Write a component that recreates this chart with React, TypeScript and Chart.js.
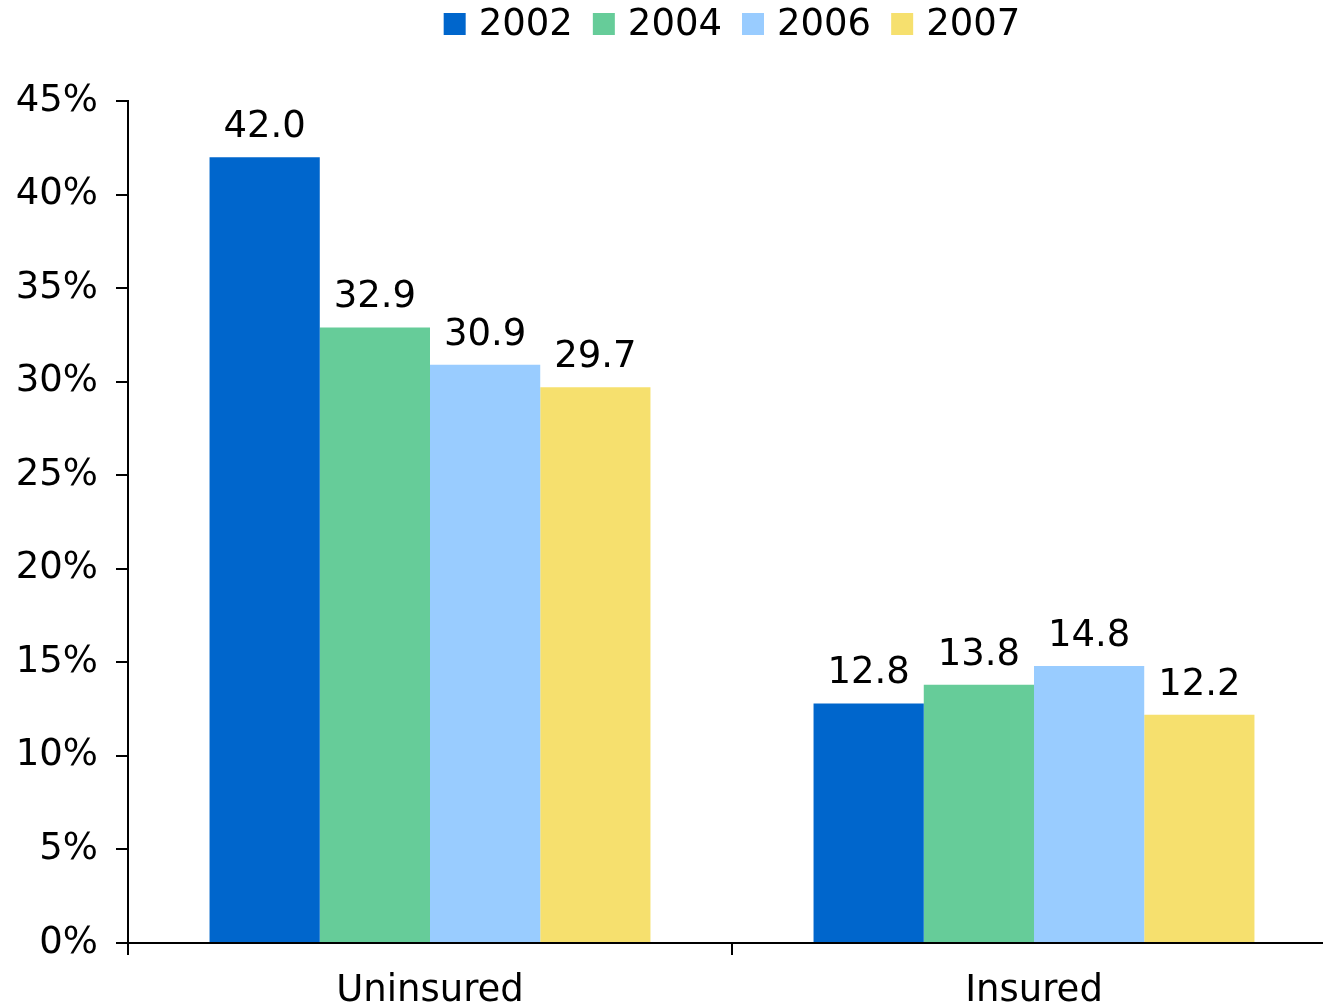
import React, { useEffect, useRef } from "react";
import { Chart, registerables } from "chart.js";

Chart.register(...registerables);

const categories = ["Uninsured", "Insured"];
const seriesNames = ["2002", "2004", "2006", "2007"];
const values2002 = [42.0, 12.8];
const values2004 = [32.9, 13.8];
const values2006 = [30.9, 14.8];
const values2007 = [29.7, 12.2];
const colors = ["#0066CC", "#66CC99", "#99CCFF", "#F6E06E"];
const yTicks = [0, 5, 10, 15, 20, 25, 30, 35, 40, 45];

const FONT = "'DejaVu Sans', Verdana, sans-serif";
const FS = 37;

const labelPlugin = {
  id: "barLabels",
  afterDatasetsDraw(chart: any) {
    const ctx = chart.ctx;
    ctx.save();
    ctx.font = `${FS}px ${FONT}`;
    ctx.fillStyle = "#000";
    ctx.textAlign = "center";
    ctx.textBaseline = "alphabetic";
    chart.data.datasets.forEach((ds: any, i: number) => {
      const meta = chart.getDatasetMeta(i);
      meta.data.forEach((bar: any, j: number) => {
        ctx.fillText(Number(ds.data[j]).toFixed(1), bar.x, bar.y - 20);
      });
    });
    ctx.restore();
  },
};

const legendPlugin = {
  id: "customLegend",
  afterDraw(chart: any) {
    const ctx = chart.ctx;
    ctx.save();
    ctx.font = `${FS}px ${FONT}`;
    const box = 22;
    const gap = 13;
    const spacing = 20;
    const widths = seriesNames.map((n) => ctx.measureText(n).width);
    const total =
      widths.reduce((a, w) => a + box + gap + w, 0) + spacing * (seriesNames.length - 1);
    const ca = chart.chartArea;
    let x = (ca.left + ca.right) / 2 - total / 2;
    const cy = 24;
    ctx.textBaseline = "middle";
    ctx.textAlign = "left";
    seriesNames.forEach((n, i) => {
      ctx.fillStyle = colors[i];
      ctx.fillRect(x, cy - box / 2, box, box);
      ctx.fillStyle = "#000";
      ctx.fillText(n, x + box + gap, cy + 1);
      x += box + gap + widths[i] + spacing;
    });
    ctx.restore();
  },
};

export default function App() {
  const ref = useRef<HTMLCanvasElement>(null);
  useEffect(() => {
    if (!ref.current) return;
    const seriesData = [values2002, values2004, values2006, values2007];
    const chart = new Chart(ref.current, {
      type: "bar",
      data: {
        labels: categories,
        datasets: seriesNames.map((n, i) => ({
          label: n,
          data: seriesData[i],
          backgroundColor: colors[i],
          borderWidth: 0,
          categoryPercentage: 0.73,
          barPercentage: 1.0,
        })),
      },
      options: {
        responsive: false,
        animation: false,
        layout: { padding: { top: 101, right: 2, left: 0, bottom: 0 } },
        plugins: {
          legend: { display: false },
          tooltip: { enabled: false },
        },
        scales: {
          x: {
            offset: true,
            grid: {
              offset: true,
              drawOnChartArea: false,
              drawTicks: true,
              tickLength: 12,
              color: "#000",
              lineWidth: 2,
            },
            border: { color: "#000", width: 2 },
            ticks: {
              font: { family: FONT, size: FS },
              color: "#000",
              padding: 14,
            },
            afterFit: (s: any) => {
              s.height = 72;
            },
          },
          y: {
            min: 0,
            max: 45,
            afterBuildTicks: (s: any) => {
              s.ticks = yTicks.map((v) => ({ value: v }));
            },
            grid: {
              drawOnChartArea: false,
              drawTicks: true,
              tickLength: 12,
              color: "#000",
              lineWidth: 2,
            },
            border: { color: "#000", width: 2 },
            ticks: {
              font: { family: FONT, size: FS },
              color: "#000",
              padding: 18,
              callback: (v: any) => `${v}%`,
            },
            afterFit: (s: any) => {
              s.width = 128;
            },
          },
        },
      },
      plugins: [labelPlugin, legendPlugin],
    });
    return () => chart.destroy();
  }, []);
  return (
    <div
      style={{
        position: "fixed",
        left: 0,
        top: 0,
        width: 1323,
        height: 1007,
        overflow: "hidden",
        background: "#fff",
      }}
    >
      <canvas ref={ref} width={1338} height={1015} style={{ display: "block" }} />
    </div>
  );
}
